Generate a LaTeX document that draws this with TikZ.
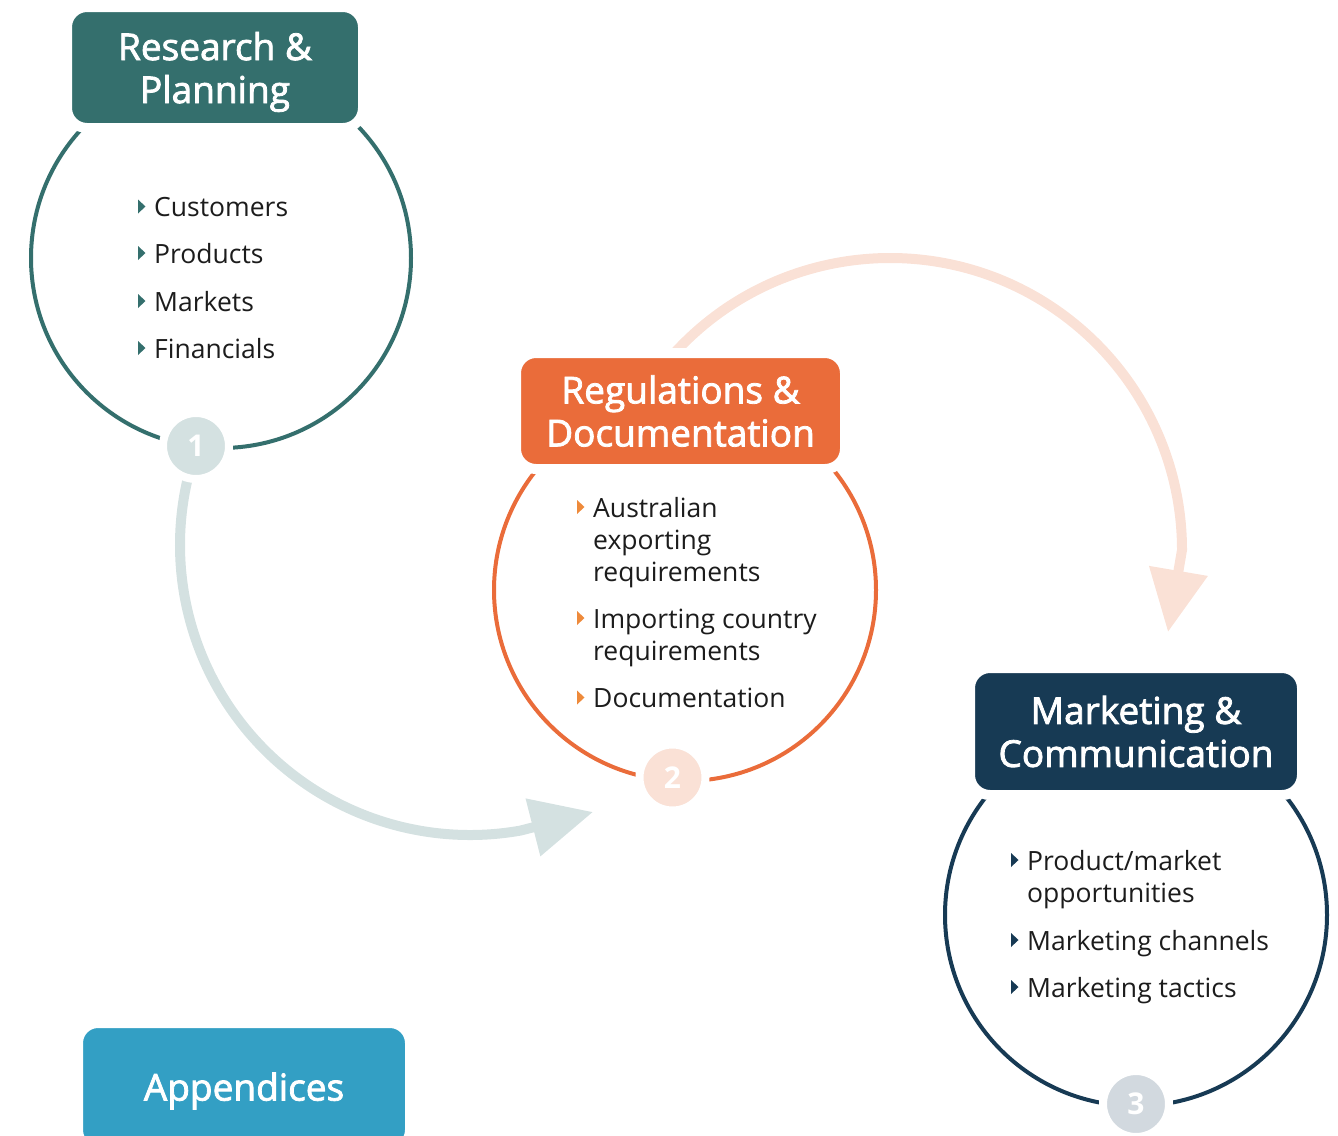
\documentclass[tikz,border=0pt]{standalone}
\usepackage{fontspec}
\setmainfont{Open Sans}
\newfontfamily\ttlfont{Open Sans}
\usetikzlibrary{arrows.meta,calc}
\definecolor{teal1}{HTML}{346F6D}
\definecolor{teal1l}{HTML}{D4E1E1}
\definecolor{orng}{HTML}{EA6C3A}
\definecolor{orngb}{HTML}{EE8A3B}
\definecolor{orngl}{HTML}{FAE1D6}
\definecolor{navy}{HTML}{173A54}
\definecolor{navyl}{HTML}{D2D9DF}
\definecolor{appb}{HTML}{339FC4}
\definecolor{txt}{HTML}{1C1C1C}
\newcommand\bullmark[2]{\fill[#1] ($(#2.base west)+(-16,-17)$) -- ++(7.5,7) -- ++(-7.5,7) -- cycle;}
\newcommand\semib[1]{\special{pdf:literal direct 2 Tr 0.8 w 1 1 1 RG}#1\special{pdf:literal direct 0 Tr}}
\begin{document}
\begin{tikzpicture}[x=1pt,y=-1pt,
  titlebox/.style={rectangle, rounded corners=20pt, draw=white, line width=10pt, text=white,
    font=\ttlfont\fontsize{37}{43}\selectfont, align=center, inner sep=0pt},
  bigring/.style={draw=#1, line width=4pt},
  numdot/.style={circle, minimum size=66pt, inner sep=0pt, draw=white, line width=8pt, fill=#1,
    text=white, font=\bfseries\fontsize{30}{30}\selectfont},
  listtext/.style={anchor=base west, inner sep=0pt, text=txt, font=\fontsize{26.5}{32}\selectfont},
  flowarrow/.style={line width=10pt, draw=#1, -{Triangle[length=62pt,width=57pt,fill=#1]}}
]
\path[use as bounding box] (0,0) rectangle (1338,1135);
\clip (0,0) rectangle (1338,1135);

% circles
\coordinate (c1) at (221,258);
\coordinate (c2) at (685,590);
\coordinate (c3) at (1136,915);
\draw[bigring=teal1] (c1) circle[radius=190];
\draw[bigring=orng] (c2) circle[radius=191];
\draw[bigring=navy] (c3) circle[radius=191];

% flow arrows
\coordinate (a1s) at ($(470,545)+(195:290)$);
\coordinate (a1t) at (593,812);
\draw[flowarrow=teal1l] (a1s) arc[start angle=195, end angle=80, radius=290] -- (a1t);
\coordinate (a2s) at ($(890,550)+(-140:292)$);
\coordinate (a2t) at (1168,632);
\draw[flowarrow=orngl] (a2s) arc[start angle=-140, end angle=0, radius=292] -- (a2t);

% title boxes
\node[titlebox, fill=teal1, minimum width=296pt, minimum height=121pt, text depth=0pt] (b1) at (215,67.5) {\semib{Research \&\\Planning}};
\node[titlebox, fill=orng, minimum width=329pt, minimum height=116pt] (b2) at (680.5,411) {\semib{Regulations \&\\Documentation}};
\node[titlebox, fill=navy, minimum width=332pt, minimum height=127pt] (b3) at (1136,731.5) {\semib{Marketing \&\\Communication}};
\node[titlebox, fill=appb, minimum width=332pt, minimum height=127pt, text depth=0pt] (b4) at (244,1086.5) {\semib{Appendices}};

% number badges
\node[numdot=teal1l] (n1) at (196,446) {1};
\node[numdot=orngl] (n2) at (672.5,777.5) {2};
\node[numdot=navyl] (n3) at (1136,1104) {3};

% list 1
\node[listtext] (t11) at (154,216.5) {Customers};
\node[listtext] (t12) at (154,263) {Products};
\node[listtext] (t13) at (154,311) {Markets};
\node[listtext] (t14) at (154,358) {Financials};
\bullmark{teal1}{t11}
\bullmark{teal1}{t12}
\bullmark{teal1}{t13}
\bullmark{teal1}{t14}

% list 2
\node[listtext] (t21) at (593,517) {Australian};
\node[listtext] (t21b) at (593,549) {exporting};
\node[listtext] (t21c) at (593,581) {requirements};
\node[listtext] (t22) at (593,628) {Importing country};
\node[listtext] (t22b) at (593,660) {requirements};
\node[listtext] (t23) at (593,707.5) {Documentation};
\bullmark{orngb}{t21}
\bullmark{orngb}{t22}
\bullmark{orngb}{t23}

% list 3
\node[listtext] (t31) at (1027,870) {Product/market};
\node[listtext] (t31b) at (1027,902) {opportunities};
\node[listtext] (t32) at (1027,950) {Marketing channels};
\node[listtext] (t33) at (1027,997) {Marketing tactics};
\bullmark{navy}{t31}
\bullmark{navy}{t32}
\bullmark{navy}{t33}
\end{tikzpicture}
\end{document}
